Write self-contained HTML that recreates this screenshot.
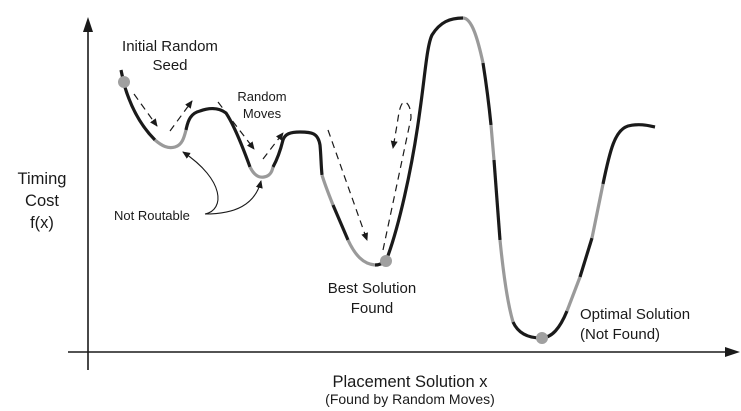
<!DOCTYPE html>
<html><head><meta charset="utf-8"><style>
html,body{margin:0;padding:0;background:#fff}
svg{display:block}
text{font-family:"Liberation Sans",Arial,sans-serif;fill:#1a1a1a}
</style></head><body>
<svg width="741" height="411" viewBox="0 0 741 411" xmlns="http://www.w3.org/2000/svg">
<defs>
<marker id="a" markerWidth="8" markerHeight="8" refX="7" refY="4" orient="auto" markerUnits="userSpaceOnUse"><path d="M0,0.5 L8,4 L0,7.5 z" fill="#1a1a1a"/></marker>
</defs>
<!-- axes -->
<line x1="88" y1="370" x2="88" y2="30" stroke="#1a1a1a" stroke-width="1.6"/>
<line x1="68" y1="352" x2="728" y2="352" stroke="#1a1a1a" stroke-width="1.6"/>
<path d="M740,352 L725,347 L725,357 z" fill="#1a1a1a"/>
<path d="M88,17 L83,32 L93,32 z" fill="#1a1a1a"/>
<g fill="none" stroke-width="3.2" stroke-linecap="butt">
<path stroke="#1a1a1a" d="M121,70 L124,84 C130,105 140,125 155,140"/>
<path stroke="#9a9a9a" d="M155,140 C162,146 168,149 175,147 C182,145 184,138 186,130"/>
<path stroke="#1a1a1a" d="M186,130 C188,120 191,113 200,111 C208,108 218,107 226,113 C234,125 242,145 250,167"/>
<path stroke="#9a9a9a" d="M250,167 C254,175 259,178 264,177 C270,176 272,172 273,167"/>
<path stroke="#1a1a1a" d="M273,167 C278,158 281,148 283,140 C285,134 290,132 300,132 C312,132 318,133 320,145 C321,155 321,165 322,175"/>
<path stroke="#9a9a9a" d="M322,175 C325,185 329,195 333,205"/>
<path stroke="#1a1a1a" d="M333,205 L348,240"/>
<path stroke="#9a9a9a" d="M348,240 C355,255 363,264 375,265"/>
<path stroke="#1a1a1a" d="M375,265 C380,265 383,263 386,261 C398,230 412,170 420,110 C425,75 427,45 432,35 C440,22 450,18 463,18"/>
<path stroke="#9a9a9a" d="M463,18 C472,18 478,40 483,63"/>
<path stroke="#1a1a1a" d="M483,63 C486,82 489,105 491,125"/>
<path stroke="#9a9a9a" d="M491,125 L494,160"/>
<path stroke="#1a1a1a" d="M494,160 L500,240"/>
<path stroke="#9a9a9a" d="M500,240 C504,280 508,305 513,322"/>
<path stroke="#1a1a1a" d="M513,322 C518,333 528,338 541,338 C552,338 560,328 567,311"/>
<path stroke="#9a9a9a" d="M567,311 L580,277"/>
<path stroke="#1a1a1a" d="M580,277 L592,238"/>
<path stroke="#9a9a9a" d="M592,238 L603,184"/>
<path stroke="#1a1a1a" d="M603,184 C610,150 615,130 628,126 C640,123 650,126 655,127"/>
</g>
<circle cx="124" cy="82" r="6" fill="#a0a0a0"/>
<circle cx="386" cy="261" r="6" fill="#a0a0a0"/>
<circle cx="542" cy="338" r="6" fill="#a0a0a0"/>
<g fill="none" stroke="#1a1a1a" stroke-width="1.2" stroke-dasharray="7,5">
<path d="M134,94 L157,126" marker-end="url(#a)"/>
<path d="M170,131 L192,101" marker-end="url(#a)"/>
<path d="M218,102 L254,149" marker-end="url(#a)"/>
<path d="M263,159 L283,133" marker-end="url(#a)"/>
<path d="M328,130 L367,240" marker-end="url(#a)"/>
<path d="M383,250 L411,118 C411,108 408,102 404,102 C400,104 399,112 397,125 L393,148" marker-end="url(#a)"/>
</g>
<g fill="none" stroke="#1a1a1a" stroke-width="1.1">
<path d="M205,214 C225,210 225,180 183,152" marker-end="url(#a)"/>
<path d="M205,214 C235,214 255,205 261,181" marker-end="url(#a)"/>
</g>
<g font-size="15">
<text x="170" y="51" text-anchor="middle">Initial Random</text>
<text x="170" y="70" text-anchor="middle">Seed</text>
<text x="372" y="293" text-anchor="middle">Best Solution</text>
<text x="372" y="313" text-anchor="middle">Found</text>
<text x="580" y="319">Optimal Solution</text>
<text x="580" y="339">(Not Found)</text>
</g>
<g font-size="13">
<text x="262" y="101" text-anchor="middle">Random</text>
<text x="262" y="118" text-anchor="middle">Moves</text>
<text x="114" y="220">Not Routable</text>
</g>
<g font-size="16.5">
<text x="42" y="184" text-anchor="middle">Timing</text>
<text x="42" y="206" text-anchor="middle">Cost</text>
<text x="42" y="228" text-anchor="middle">f(x)</text>
<text x="410" y="387" text-anchor="middle">Placement Solution x</text>
</g>
<text x="410" y="404" text-anchor="middle" font-size="14">(Found by Random Moves)</text>
</svg>
</body></html>
